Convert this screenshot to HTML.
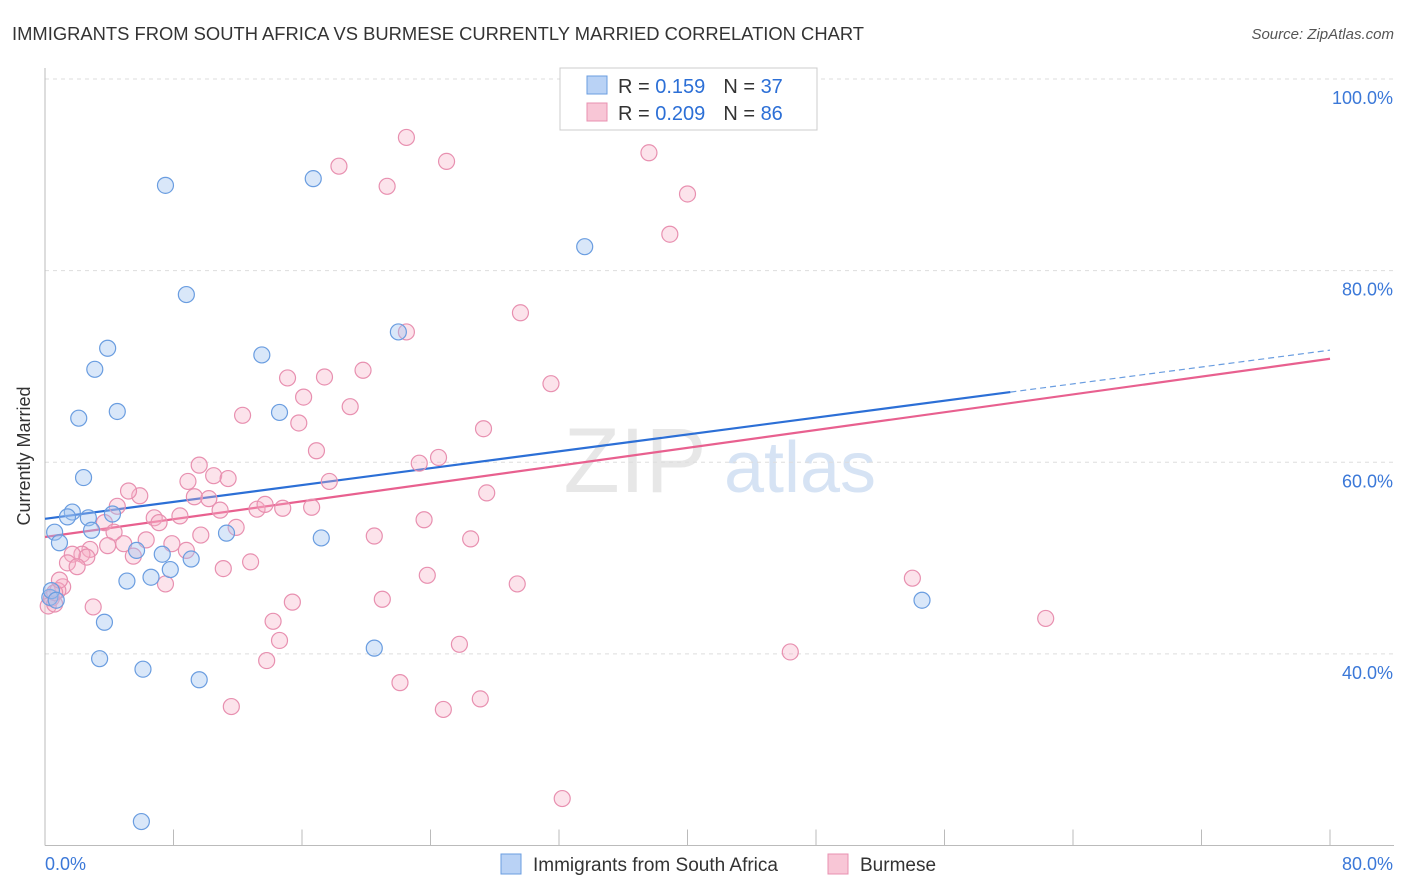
<!DOCTYPE html>
<html><head><meta charset="utf-8">
<style>
body{margin:0;background:#fff;font-family:"Liberation Sans",sans-serif;}
#wrap{position:relative;width:1406px;height:892px;overflow:hidden;}
svg text{font-family:"Liberation Sans",sans-serif;}
</style></head>
<body>
<div id="wrap">
<svg id="chart" width="1406" height="892">
<text x="12" y="40" font-size="18" fill="#333" textLength="852" lengthAdjust="spacingAndGlyphs">IMMIGRANTS FROM SOUTH AFRICA VS BURMESE CURRENTLY MARRIED CORRELATION CHART</text>
<text x="1394" y="39" font-size="15" fill="#555" font-style="italic" text-anchor="end">Source: ZipAtlas.com</text>
<text x="30" y="456" font-size="18" fill="#333" text-anchor="middle" transform="rotate(-90 30 456)">Currently Married</text>
<g>
<text x="635" y="492" font-size="92" fill="#ddd" font-family="Liberation Serif" text-anchor="middle" opacity="0.7">ZIP</text>
<text x="800" y="492" font-size="72" fill="#c5d8f0" text-anchor="middle" opacity="0.7">atlas</text>
</g>
<g id="grid"></g><g id="ticks"></g><g id="lines"></g><g id="pts"></g>
<g>
<rect x="560" y="68" width="257" height="62" fill="#fff" stroke="#ccc"/>
<rect x="587" y="76" width="20" height="18" fill="#b9d2f5" stroke="#6a9de0"/>
<rect x="587" y="103" width="20" height="18" fill="#f8c6d6" stroke="#e890b0"/>
<text x="618" y="93" font-size="20" fill="#333">R = <tspan fill="#2c6fd6"> 0.159</tspan><tspan dx="18">N = </tspan><tspan fill="#2c6fd6">37</tspan></text>
<text x="618" y="120" font-size="20" fill="#333">R = <tspan fill="#2c6fd6">0.209</tspan><tspan dx="18">N = </tspan><tspan fill="#2c6fd6">86</tspan></text>
</g>
<g>
<rect x="501" y="854" width="20" height="20" fill="#b9d2f5" stroke="#6a9de0"/>
<text x="533" y="871" font-size="19" fill="#333">Immigrants from South Africa</text>
<rect x="828" y="854" width="20" height="20" fill="#f8c6d6" stroke="#e890b0"/>
<text x="860" y="871" font-size="19" fill="#333">Burmese</text>
</g>
</svg>
</div>
<script>
const yTicks=[40,60,80,100];
const yTickLabels=["40.0%","60.0%","80.0%","100.0%"];
const xTickLabels=["0.0%","80.0%"];
const blueX=[7.5,16.7,33.6,8.8,3.9,13.5,22.0,3.1,2.1,4.5,14.6,2.4,1.7,1.4,2.7,4.2,2.9,0.6,0.9,17.2,11.3,7.3,5.7,9.1,5.1,6.6,7.8,3.7,0.3,54.6,3.4,20.5,6.1,9.6,6.0,0.4,0.7];
const blueY=[88.9,89.6,82.5,77.5,71.9,71.2,73.6,69.7,64.6,65.3,65.2,58.4,54.8,54.3,54.2,54.6,52.9,52.7,51.6,52.1,52.6,50.4,50.8,49.9,47.6,48.0,48.8,43.3,45.9,45.6,39.5,40.6,38.4,37.3,22.5,46.6,45.6];
const pinkX=[22.5,18.3,25.0,21.3,37.6,40.0,38.9,29.6,22.5,19.8,15.1,17.4,31.5,16.1,19.0,12.3,15.8,27.3,16.9,24.5,23.3,9.6,10.5,11.4,8.9,17.7,27.5,5.9,5.2,9.3,10.2,4.5,10.9,13.2,13.7,14.8,16.6,8.4,6.8,7.1,3.7,23.6,11.9,4.3,20.5,9.7,26.5,4.9,6.3,7.9,3.9,2.8,2.3,2.6,5.5,1.7,8.8,12.8,1.4,2.0,11.1,7.5,1.1,0.8,0.4,0.2,0.6,23.8,29.4,54.0,21.0,15.4,3.0,14.2,62.3,14.6,25.8,46.4,13.8,22.1,27.1,11.6,24.8,32.2,0.6,0.9];
const pinkY=[93.9,90.9,91.4,88.8,92.3,88.0,83.8,75.6,73.6,69.6,68.8,68.9,68.2,66.8,65.8,64.9,64.1,63.5,61.2,60.5,59.9,59.7,58.6,58.3,58.0,58.0,56.8,56.5,57.0,56.4,56.2,55.4,55.0,55.1,55.6,55.2,55.3,54.4,54.2,53.7,53.7,54.0,53.2,52.7,52.3,52.4,52.0,51.5,51.9,51.5,51.3,50.9,50.4,50.1,50.2,50.4,50.8,49.6,49.5,49.1,48.9,47.3,47.0,46.6,45.8,45.0,45.2,48.2,47.3,47.9,45.7,45.4,44.9,43.4,43.7,41.4,41.0,40.2,39.3,37.0,35.3,34.5,34.2,24.9,46.4,47.7];
const blueTrend=[54.1,71.7];
const pinkTrend=[52.2,70.8];
const blueSolidEnd=60.1;
const X0=45,X1=1330,Y0=845.5,Y1=79;
const sx=v=>X0+(v/80)*(X1-X0);
const sy=v=>Y0-((v-20)/80)*(Y0-Y1);
const NS="http://www.w3.org/2000/svg";
function mk(tag,attrs,parent){const e=document.createElementNS(NS,tag);for(const k in attrs)e.setAttribute(k,attrs[k]);parent.appendChild(e);return e;}
const grid=document.getElementById('grid'),ticks=document.getElementById('ticks'),lines=document.getElementById('lines'),pts=document.getElementById('pts');
yTicks.forEach((t,i)=>{
 const g=mk('line',{x1:X0,x2:1394,y1:sy(t),y2:sy(t),stroke:'#ddd','stroke-dasharray':'4,4'},grid);
 
 
 const l=mk('text',{x:1393,y:sy(t)+25,'font-size':18,fill:'#3b78d8','text-anchor':'end'},ticks);
 l.textContent=yTickLabels[i];
 
 
});
const ax=mk('line',{x1:X0,x2:X0,y1:68,y2:Y0,stroke:'#bbb'},ticks);


const bx=mk('line',{x1:X0,x2:1394,y1:Y0,y2:Y0,stroke:'#bbb'},ticks);


for(let i=0;i<=10;i++){
 const t=mk('line',{x1:sx(i*8),x2:sx(i*8),y1:Y0,y2:Y0-16,stroke:'#bbb'},ticks);
 
 
}
[[0,'start',45],[80,'end',1393]].forEach((d,i)=>{
 const l=mk('text',{x:d[2],y:870,'font-size':18,fill:'#3b78d8','text-anchor':d[1]},ticks);
 l.textContent=xTickLabels[i];
 
 
});
function drawPts(xs,ys,fill,stroke,name){
 xs.forEach((x,i)=>{
  const c=mk('circle',{cx:sx(x),cy:sy(ys[i]),r:8,fill:fill,stroke:stroke,'stroke-width':1.2},pts);
  
  
 });
}
drawPts(pinkX,pinkY,'rgba(245,175,198,0.35)','#e890b0','burmese-point');
drawPts(blueX,blueY,'rgba(160,195,240,0.4)','#6a9de0','south-africa-point');
const bt=v=>blueTrend[0]+(blueTrend[1]-blueTrend[0])*v/80;
const pt=v=>pinkTrend[0]+(pinkTrend[1]-pinkTrend[0])*v/80;
const pl=mk('line',{x1:sx(0),y1:sy(pt(0)),x2:sx(80),y2:sy(pt(80)),stroke:'#e8608f','stroke-width':2.2},lines);


const bl=mk('line',{x1:sx(0),y1:sy(bt(0)),x2:sx(blueSolidEnd),y2:sy(bt(blueSolidEnd)),stroke:'#2c6fd6','stroke-width':2.2},lines);


const bd=mk('line',{x1:sx(blueSolidEnd),y1:sy(bt(blueSolidEnd)),x2:sx(80),y2:sy(bt(80)),stroke:'#6a9de0','stroke-width':1.2,'stroke-dasharray':'6,4'},lines);


</script>
</body></html>
